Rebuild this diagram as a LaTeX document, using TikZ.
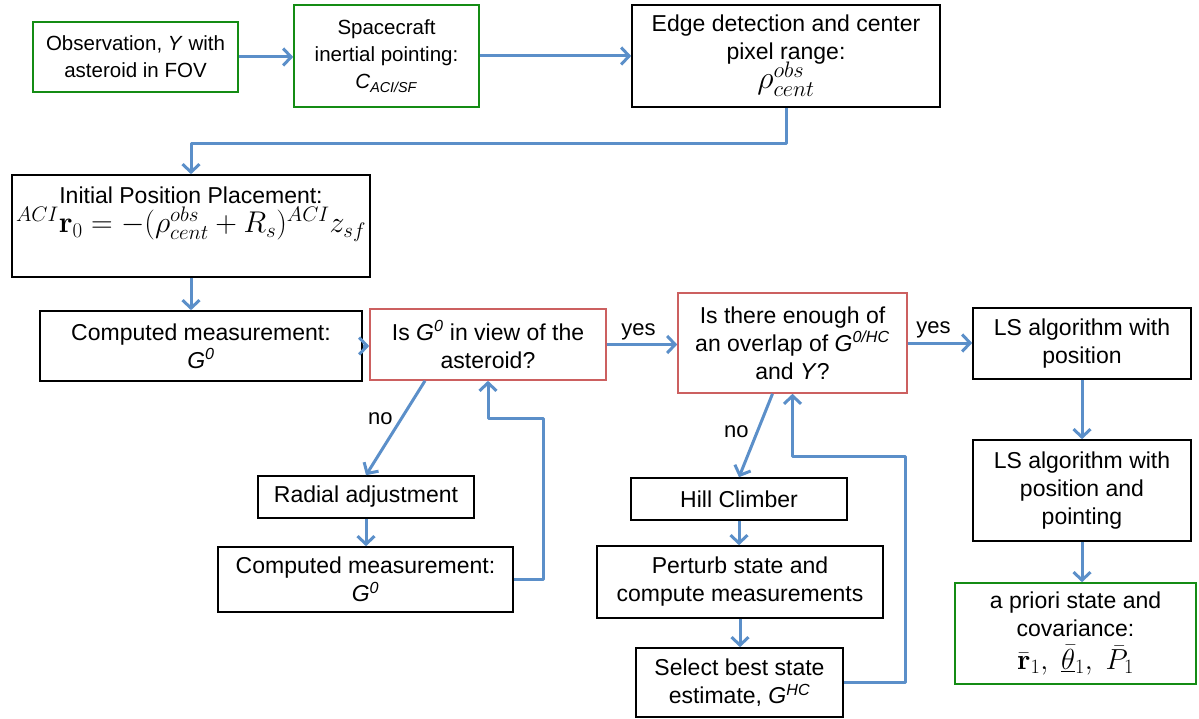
\RequirePackage{fix-cm}
\documentclass[tikz,border=0pt]{standalone}
\usepackage[no-math]{fontspec}
\setmainfont{Liberation Sans}
\usetikzlibrary{arrows.meta,calc}
\definecolor{arrblue}{RGB}{91,143,201}
\definecolor{boxgreen}{RGB}{20,140,20}
\definecolor{boxred}{RGB}{204,96,96}
\newcommand{\Gz}{\textit{G}\textsuperscript{\textit{0}}}
\newcommand{\bigmath}[2]{{\fontsize{#1}{#1}\selectfont$#2$}}
\begin{document}
\begin{tikzpicture}[x=1pt,y=-1pt,
  box/.style={draw=black, line width=1.6pt, align=center, inner sep=2pt, font=\fontsize{23}{28}\selectfont},
  smallbox/.style={box, font=\fontsize{20.5}{27}\selectfont},
  gbox/.style={draw=boxgreen},
  rbox/.style={draw=boxred},
  txt/.style={align=center, inner sep=0pt, font=\fontsize{23}{28}\selectfont},
  arr/.style={draw=arrblue, line width=3pt, line join=round, -{Straight Barb[length=8pt,width=17pt,line width=3pt]}},
  lbl/.style={font=\fontsize{22}{26}\selectfont, text=black}]
\useasboundingbox (0,0) rectangle (1199,719);

% top row
\node[smallbox, gbox, minimum width=205pt, minimum height=70pt] (obs) at (135.5,57) {Observation, \textit{Y} with\\asteroid in FOV};
\node[smallbox, gbox, minimum width=185pt, minimum height=102pt] (sc) at (386.5,56) {Spacecraft\\inertial pointing:\\\textit{C}\textsubscript{\textit{ACI/SF}}};
\node[box, minimum width=308pt, minimum height=102pt] (edge) at (786,56) {Edge detection and center\\pixel range:\\[-4pt]\bigmath{32}{\rho^{obs}_{cent}}};

% initial position
\node[box, minimum width=358pt, minimum height=102pt] (init) at (191,226) {};
\node[txt] (inittxt) at (191,214) {Initial Position Placement:\\[1pt]\bigmath{30}{^{ACI}\mathbf{r}_0=-(\rho^{obs}_{cent}+R_s)^{ACI}z_{sf}}};

% middle row
\node[box, minimum width=322pt, minimum height=70pt] (comp) at (201,346) {Computed measurement:\\\Gz};
\node[box, rbox, minimum width=236pt, minimum height=71pt] (isg) at (488,344.5) {Is \Gz{} in view of the\\asteroid?};
\node[box, rbox, minimum width=229pt, minimum height=100pt] (ovl) at (792.5,343) {Is there enough of\\an overlap of \textit{G}\textsuperscript{\textit{0/HC}}\\and \textit{Y}?};
\node[box, minimum width=218pt, minimum height=71pt] (ls1) at (1082,343.5) {LS algorithm with\\position};

% right column
\node[box, minimum width=218pt, minimum height=101pt] (ls2) at (1082,490.5) {LS algorithm with\\position and\\pointing};
\node[box, gbox, minimum width=241pt, minimum height=101pt] (apr) at (1075.5,633.5) {a priori state and\\covariance:\\[5pt]\bigmath{29}{\bar{\mathbf{r}}_1,\ \underline{\bar{\theta}}_1,\ \bar{P}_1}};

% left loop
\node[box, minimum width=216pt, minimum height=42pt] (rad) at (366,497) {Radial adjustment};
\node[box, minimum width=295pt, minimum height=65pt] (comp2) at (365.5,579.5) {Computed measurement:\\\Gz};

% hill climber loop
\node[box, minimum width=216pt, minimum height=42pt] (hill) at (739,499) {Hill Climber};
\node[box, minimum width=286pt, minimum height=72pt] (pert) at (740,582) {Perturb state and\\compute measurements};
\node[box, minimum width=207pt, minimum height=69pt] (sel) at (739.5,682.5) {Select best state\\estimate, \textit{G}\textsuperscript{\textit{HC}}};

\coordinate (c1) at (543,418);
\coordinate (c2) at (905,456);

% connectors
\draw[arr] (obs.east) -- (obs.east -| sc.west);
\draw[arr] (sc.east) -- (sc.east -| edge.west);
\draw[arr] (edge.south) -- ++(0,36) -| (init.north);
\draw[arr] (init.south) -- (init.south |- comp.north);
\draw[arr] (comp.east) -- (comp.east -| isg.west);
\draw[arr] (isg.east) -- node[lbl, above, pos=0.45] {yes} (isg.east -| ovl.west);
\draw[arr] (ovl.east) -- node[lbl, above, pos=0.4] {yes} (ovl.east -| ls1.west);
\draw[arr] ($(isg.south)+(-63,0)$) -- node[lbl, left, pos=0.4, xshift=-4pt] {no} (rad.north);
\draw[arr] (rad.south) -- (rad.south |- comp2.north);
\draw[arr] (comp2.east) -| (c1) -| (isg.south);
\draw[arr] ($(ovl.south)+(-20,0)$) -- node[lbl, left, pos=0.45, xshift=-4pt] {no} (hill.north);
\draw[arr] (hill.south) -- (hill.south |- pert.north);
\draw[arr] (pert.south) -- (pert.south |- sel.north);
\draw[arr] (sel.east) -| (c2) -| (ovl.south);
\draw[arr] (ls1.south) -- (ls2.north);
\draw[arr] (ls2.south) -- (ls2.south |- apr.north);
\end{tikzpicture}
\end{document}
